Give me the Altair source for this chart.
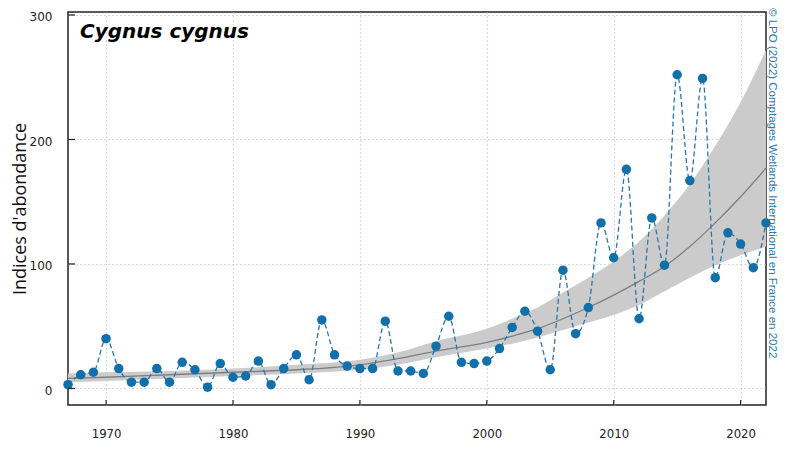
import altair as alt
import pandas as pd

# ---- data ----
years = list(range(1967, 2023))
indices = [3, 11, 13, 40, 16, 5, 5, 16, 5, 21,
           15, 1, 20, 9, 10, 22, 3, 16, 27, 7,
           55, 27, 18, 16, 16, 54, 14, 14, 12, 34,
           58, 21, 20, 22, 32, 49, 62, 46, 15, 95,
           44, 65, 133, 105, 176, 56, 137, 99, 252, 167,
           249, 89, 125, 116, 97, 133]

fit_years = [1967, 1970, 1975, 1980, 1985, 1990, 1993, 1996, 2000, 2002, 2004,
             2006, 2008, 2010, 2012, 2014, 2016, 2018, 2020, 2022]
fit_mid = [8, 9, 11, 13, 15, 19, 24, 30, 37, 42, 48, 56, 65, 75, 86, 98, 114, 133, 154, 177]
fit_low = [5, 6, 8, 10, 12, 15, 19, 25, 32, 36, 41, 47, 53, 59, 67, 78, 89, 99, 107, 114]
fit_high = [12, 13, 14, 16, 19, 23, 29, 38, 48, 56, 65, 77, 89, 102, 118, 139, 164, 195, 230, 272]

x_ticks = [1970, 1980, 1990, 2000, 2010, 2020]
y_ticks = [0, 100, 200, 300]

title_text = "Cygnus cygnus"
y_title = "Indices d'abondance"
credit_text = "© LPO (2022) Comptages Wetlands International en France en 2022"

# ---- tables ----
obs = pd.DataFrame({"year": years, "value": indices})
fit = pd.DataFrame({"year": fit_years, "mid": fit_mid, "low": fit_low, "high": fit_high})
xt = pd.DataFrame({"year": x_ticks})
yt = pd.DataFrame({"value": y_ticks})

W, H = 698, 393
xscale = alt.Scale(domain=[1967, 2022], nice=False, zero=False)
yscale = alt.Scale(domain=[-13.3, 302.4], nice=False, zero=False)

grid_col = "#b8b8b8"
xaxis = alt.Axis(values=x_ticks, format="d", grid=True, gridColor=grid_col,
                 gridDash=[1, 3], gridWidth=1.2, domain=False, ticks=False, tickSize=0,
                 labelPadding=22,
                 labelFont="'DejaVu Sans Condensed', 'Liberation Sans', sans-serif",
                 labelFontSize=13, labelColor="#222", title=None)
yaxis = alt.Axis(values=y_ticks, grid=True, gridColor=grid_col, gridDash=[1, 3],
                 gridWidth=1.2, domain=False, ticks=False, tickSize=0, labelPadding=16,
                 labelFont="DejaVu Sans", labelFontSize=12, labelColor="#222",
                 labelOffset=2,
                 title=y_title, titleFont="Open Sans", titleFontSize=18,
                 titleFontWeight="normal", titleColor="#111", titleAngle=-90,
                 titleX=-48, titleY=H / 2, titleAlign="center", titleBaseline="middle")

X = alt.X("year:Q", scale=xscale, axis=xaxis)

band = alt.Chart(fit).mark_area(color="#cbcbcb", opacity=1, interpolate="monotone").encode(
    x=X,
    y=alt.Y("low:Q", scale=yscale, axis=yaxis),
    y2="high:Q",
)
fit_line = alt.Chart(fit).mark_line(color="#7f7f7f", strokeWidth=1.3, interpolate="monotone").encode(
    x=X,
    y=alt.Y("mid:Q", scale=yscale, axis=yaxis),
)
obs_line = alt.Chart(obs).mark_line(color="#2478b0", strokeWidth=1.3, strokeDash=[5, 3],
                                    interpolate="monotone").encode(
    x=X,
    y=alt.Y("value:Q", scale=yscale, axis=yaxis),
)
obs_pts = alt.Chart(obs).mark_circle(color="#1170aa", opacity=1, size=90).encode(
    x=X,
    y=alt.Y("value:Q", scale=yscale, axis=yaxis),
)

x_tickmarks = alt.Chart(xt).mark_rule(color="#222", strokeWidth=1.2).encode(
    x=X,
    y=alt.value(H - 5),
    y2=alt.value(H),
)
y_tickmarks = alt.Chart(yt).mark_rule(color="#222", strokeWidth=1.2).encode(
    y=alt.Y("value:Q", scale=yscale, axis=yaxis),
    x=alt.value(0),
    x2=alt.value(7),
)

title_layer = alt.Chart(pd.DataFrame({"t": [title_text]})).mark_text(
    font="DejaVu Sans", fontSize=20, fontWeight="bold", fontStyle="italic",
    color="#000", align="left", baseline="alphabetic",
).encode(text="t:N", x=alt.value(12), y=alt.value(26))

credit_layer = alt.Chart(pd.DataFrame({"t": [credit_text]})).mark_text(
    font="Liberation Sans", fontSize=11.5, color="#2a7ab0", angle=90,
    align="left", baseline="middle",
).encode(text="t:N", x=alt.value(W + 6), y=alt.value(-4))

chart = alt.layer(
    band, fit_line, obs_line, obs_pts, x_tickmarks, y_tickmarks, title_layer, credit_layer
).properties(
    width=W, height=H,
    padding={"left": 60, "top": 4, "right": 13, "bottom": 37},
    autosize=alt.AutoSizeParams(type="none"),
    background="white",
).configure_view(stroke="#222", strokeWidth=1.5)

chart.save("out.html", embed_options={"renderer": "svg", "actions": False})
